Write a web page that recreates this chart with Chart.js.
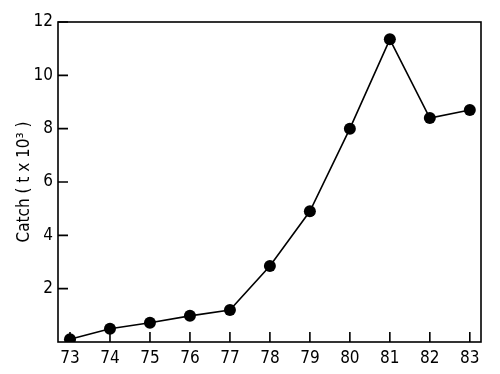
<!DOCTYPE html>
<html>
<head>
<meta charset="utf-8">
<script src="https://cdn.jsdelivr.net/npm/chart.js@4/dist/chart.umd.min.js"></script>
<style>
  html, body { margin: 0; padding: 0; background: #fff; }
  #wrap { width: 500px; height: 374px; }
</style>
</head>
<body>
<div id="wrap"><canvas id="c" width="500" height="374"></canvas></div>
<script>
var years = [73, 74, 75, 76, 77, 78, 79, 80, 81, 82, 83];
var catchValues = [0.1, 0.5, 0.72, 0.98, 1.2, 2.85, 4.9, 8.0, 11.35, 8.4, 8.7];
var yTicks = [2, 4, 6, 8, 10, 12];

var FONT = "'DejaVu Sans Condensed', 'DejaVu Sans', sans-serif";

// frame box + inward tick marks
var framePlugin = {
  id: "frame",
  afterDraw: function (chart) {
    var ctx = chart.ctx;
    var a = chart.chartArea;
    var xs = chart.scales.x, ys = chart.scales.y;
    ctx.save();
    ctx.strokeStyle = "#000";
    ctx.lineWidth = 1.6;
    ctx.strokeRect(a.left, a.top, a.right - a.left, a.bottom - a.top);
    ctx.beginPath();
    years.forEach(function (v) {
      var px = xs.getPixelForValue(v);
      ctx.moveTo(px, a.bottom);
      ctx.lineTo(px, a.bottom - 10);
    });
    yTicks.forEach(function (v) {
      var py = ys.getPixelForValue(v);
      ctx.moveTo(a.left, py);
      ctx.lineTo(a.left + 10, py);
    });
    ctx.stroke();
    ctx.restore();
  }
};

new Chart(document.getElementById("c"), {
  type: "line",
  data: {
    datasets: [{
      data: years.map(function (y, i) { return { x: y, y: catchValues[i] }; }),
      borderColor: "#000",
      backgroundColor: "#000",
      borderWidth: 1.6,
      pointRadius: 6,
      pointBackgroundColor: "#000",
      pointBorderWidth: 0,
      tension: 0
    }]
  },
  options: {
    responsive: false,
    animation: false,
    layout: { padding: { top: 22, right: 19, left: 0, bottom: 0 } },
    plugins: { legend: { display: false }, tooltip: { enabled: false } },
    scales: {
      x: {
        type: "linear",
        min: 72.7,
        max: 83.28,
        afterBuildTicks: function (s) {
          s.ticks = years.map(function (v) { return { value: v }; });
        },
        afterFit: function (s) { s.height = 32; },
        grid: { display: false, drawTicks: false, tickLength: 0 },
        border: { display: false },
        ticks: {
          color: "#000",
          padding: 6,
          font: { family: FONT, size: 17 },
          callback: function (v) { return String(v); }
        }
      },
      y: {
        min: 0,
        max: 12,
        afterBuildTicks: function (s) {
          s.ticks = yTicks.map(function (v) { return { value: v }; });
        },
        afterFit: function (s) { s.width = 58; },
        grid: { display: false, drawTicks: false, tickLength: 0 },
        border: { display: false },
        title: {
          display: true,
          text: "Catch ( t x 10\u00b3 )",
          color: "#000",
          font: { family: FONT, size: 17 },
          padding: { top: 14, bottom: 0 }
        },
        ticks: {
          color: "#000",
          padding: 5,
          font: { family: FONT, size: 17 }
        }
      }
    }
  },
  plugins: [framePlugin]
});
</script>
</body>
</html>
